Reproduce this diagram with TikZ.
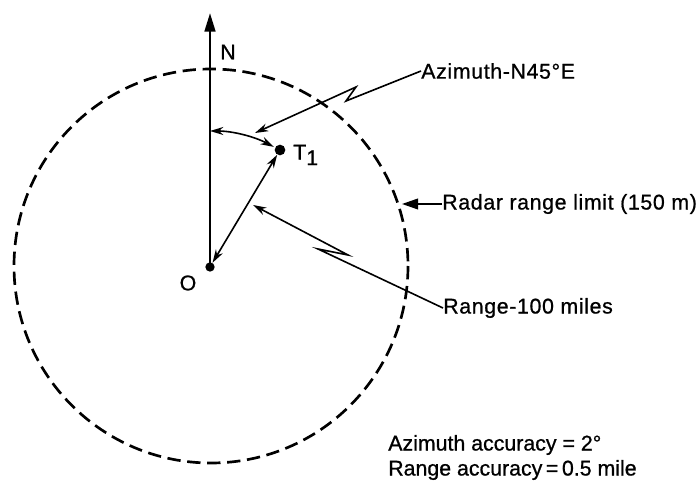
\documentclass[tikz,border=0pt]{standalone}
\usepackage{fontspec}
\setmainfont{Liberation Sans}
\usetikzlibrary{arrows.meta}
\begin{document}
\begin{tikzpicture}[x=0.75pt,y=-0.75pt,
  lbl/.style={font=\fontsize{16}{19}\selectfont\addfontfeatures{LetterSpace=3,FakeBold=0.8}, inner sep=0pt},
  note/.style={font=\fontsize{16}{19}\selectfont\addfontfeatures{FakeBold=0.8}, inner sep=0pt},
  leader/.style={line width=1.2pt, line join=miter},
  sharptip/.style={-{Stealth[length=10pt,width=6pt]}},
  twotips/.style={{Stealth[length=10pt,width=6pt]}-{Stealth[length=10pt,width=6pt]}},
  dotnode/.style={circle, fill=black, inner sep=0pt, minimum size=#1},
  rimline/.style={line width=2pt, dash pattern=on 10pt off 5pt}]
\useasboundingbox (0,0) rectangle (700,484);

% range limit circle
\coordinate (C) at (211,266);
\draw[rimline] (C) circle[radius=197];

% origin and target
\node[dotnode=7pt] (O) at (210,267) {};
\node[dotnode=8pt] (T) at (280,150) {};
\coordinate (Ntip) at (210,13);
\draw[line width=2pt, -{Triangle[length=14pt,width=8pt]}] (O.center) -- (Ntip);

\node[lbl] (Nl) at (228,52) {N};
\node[lbl] (Ol) at (188,283) {O};
\node[lbl, anchor=west] (Tl) at (293,155) {T\raisebox{-0.5ex}{1}};

% range vector
\draw[leader, twotips] (O) -- (T);

% azimuth arc
\draw[leader, twotips]
  ([shift={(O.center)}]-90:136) arc[start angle=-90, end angle=-62, radius=136];

% azimuth label and leader
\node[lbl, anchor=west] (Az) at (421,71) {Azimuth-N45°E};
\coordinate (AzP) at (346,101);
\coordinate (AzQ) at (356,87);
\coordinate (AzTip) at (255,133);
\draw[leader, sharptip] (Az.west) -- (AzP) -- (AzQ) -- (AzTip);

% radar range limit label
\node[lbl, anchor=west] (Rd) at (442,204) {Radar range limit (150 m)};
\coordinate (RdTip) at (402,204);
\draw[leader, -{Triangle[length=12pt,width=8pt]}] (Rd.west) -- (RdTip);

% range label and leader
\node[lbl, anchor=west] (Rg) at (443,308) {Range-100 miles};
\coordinate (RgC) at (318,249);
\coordinate (RgB) at (348,255);
\coordinate (RgTip) at (253,205);
\draw[leader, sharptip] (Rg.west) -- (RgC) -- (RgB) -- (RgTip);

% accuracy notes
\node[note, anchor=west] (AzAcc) at (388,445) {Azimuth accuracy = 2°};
\node[note, anchor=west] (RgAcc) at (388,470) {Range accuracy\,=\,0.5 mile};
\end{tikzpicture}
\end{document}
